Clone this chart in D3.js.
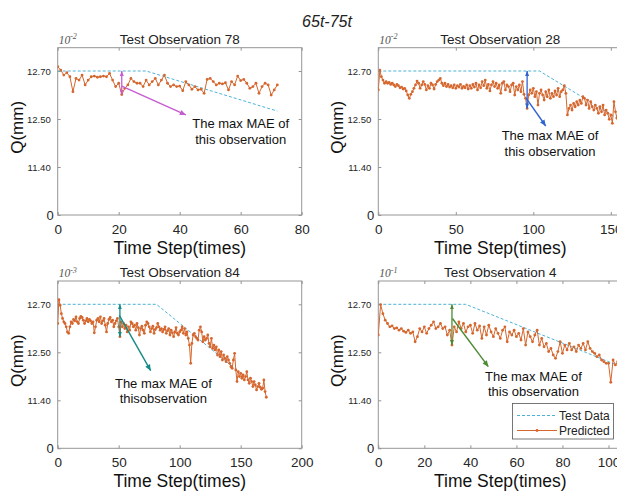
<!DOCTYPE html>
<html>
<head>
<meta charset="utf-8">
<script src="https://cdn.jsdelivr.net/npm/d3@7"></script>
<style>
  body { margin: 0; background: #fff; }
  svg { display: block; }
  text { font-family: Arial, "Liberation Sans", sans-serif; }
</style>
</head>
<body>
<svg id="chart" width="617" height="495"></svg>
<script>
// ---- data ---------------------------------------------------------------
const figureTitle = "65t-75t";
const panelTitles = ["Test Observation 78", "Test Observation 28", "Test Observation 84", "Test Observation 4"];
const scaleExponents = ["-2", "-2", "-3", "-1"];
const xDomains = [[0, 80], [0, 157.4], [0, 200], [0, 106]];
const xTickValues = [[0, 20, 40, 60, 80], [0, 50, 100, 150], [0, 50, 100, 150, 200], [0, 20, 40, 60, 80, 100]];
const yTickValues = [0, 11.40, 12.50, 12.70];
const yTickLabels = ["0", "11.40", "12.50", "12.70"];

// predicted Q per time step
const obs78Predicted = [
  12.718, 12.704, 12.683, 12.693, 12.676, 12.614, 12.669, 12.662, 12.683, 12.642,
  12.662, 12.676, 12.679, 12.674, 12.676, 12.679, 12.676, 12.690, 12.662, 12.635,
  12.649, 12.602, 12.628, 12.642, 12.669, 12.656, 12.649, 12.649, 12.635, 12.662,
  12.642, 12.656, 12.669, 12.642, 12.662, 12.683, 12.649, 12.635, 12.642, 12.635,
  12.637, 12.618, 12.656, 12.642, 12.624, 12.635, 12.621, 12.624, 12.607, 12.665,
  12.669, 12.656, 12.642, 12.649, 12.646, 12.651, 12.621, 12.656, 12.642, 12.679,
  12.660, 12.665, 12.649, 12.628, 12.635, 12.649, 12.607, 12.635, 12.649, 12.642,
  12.600, 12.621, 12.642
];
const obs28Predicted = [
  12.621, 12.704, 12.676, 12.662, 12.649, 12.656, 12.649, 12.653, 12.644, 12.649,
  12.642, 12.635, 12.644, 12.639, 12.630, 12.633, 12.625, 12.628, 12.617, 12.600,
  12.586, 12.603, 12.614, 12.628, 12.642, 12.658, 12.649, 12.628, 12.642, 12.656,
  12.644, 12.621, 12.639, 12.628, 12.649, 12.642, 12.625, 12.644, 12.656, 12.662,
  12.669, 12.649, 12.639, 12.649, 12.635, 12.644, 12.633, 12.639, 12.630, 12.642,
  12.628, 12.639, 12.633, 12.644, 12.628, 12.636, 12.630, 12.642, 12.625, 12.639,
  12.628, 12.644, 12.633, 12.649, 12.621, 12.642, 12.630, 12.656, 12.639, 12.662,
  12.628, 12.644, 12.617, 12.642, 12.656, 12.635, 12.649, 12.628, 12.642, 12.607,
  12.649, 12.656, 12.621, 12.642, 12.635, 12.614, 12.642, 12.649, 12.600, 12.635,
  12.621, 12.642, 12.614, 12.656, 12.603, 12.586, 12.544, 12.600, 12.621, 12.607,
  12.628, 12.593, 12.614, 12.558, 12.607, 12.621, 12.600, 12.579, 12.614, 12.593,
  12.621, 12.586, 12.607, 12.593, 12.617, 12.600, 12.628, 12.593, 12.614, 12.621,
  12.639, 12.607, 12.517, 12.544, 12.558, 12.537, 12.565, 12.551, 12.572, 12.558,
  12.579, 12.565, 12.593, 12.586, 12.558, 12.579, 12.544, 12.572, 12.551, 12.537,
  12.558, 12.544, 12.524, 12.551, 12.530, 12.558, 12.517, 12.537, 12.524, 12.493,
  12.517, 12.400, 12.572, 12.530, 12.503, 12.565
];
const obs84Predicted = [
  12.620, 12.719, 12.696, 12.661, 12.641, 12.627, 12.620, 12.606, 12.585, 12.579,
  12.606, 12.627, 12.620, 12.637, 12.631, 12.648, 12.627, 12.620, 12.641, 12.650,
  12.645, 12.634, 12.620, 12.631, 12.641, 12.627, 12.637, 12.631, 12.620, 12.627,
  12.581, 12.606, 12.634, 12.641, 12.627, 12.648, 12.620, 12.631, 12.641, 12.613,
  12.585, 12.620, 12.637, 12.645, 12.627, 12.634, 12.606, 12.620, 12.631, 12.641,
  12.606, 12.565, 12.627, 12.606, 12.620, 12.599, 12.613, 12.585, 12.606, 12.592,
  12.627, 12.620, 12.606, 12.613, 12.592, 12.620, 12.603, 12.572, 12.599, 12.609,
  12.592, 12.579, 12.613, 12.627, 12.620, 12.606, 12.585, 12.599, 12.609, 12.579,
  12.595, 12.603, 12.620, 12.606, 12.592, 12.599, 12.585, 12.595, 12.606, 12.579,
  12.590, 12.599, 12.572, 12.592, 12.581, 12.565, 12.585, 12.603, 12.579, 12.572,
  12.585, 12.592, 12.606, 12.579, 12.599, 12.572, 12.585, 12.558, 12.530, 12.248,
  12.537, 12.572, 12.579, 12.565, 12.558, 12.551, 12.592, 12.606, 12.585, 12.544,
  12.565, 12.551, 12.558, 12.572, 12.537, 12.523, 12.558, 12.516, 12.530, 12.510,
  12.523, 12.438, 12.510, 12.400, 12.503, 12.324, 12.438, 12.362, 12.286, 12.400,
  12.324, 12.248, 12.171, 12.133, 12.324, 12.476, 12.095, 11.828, 12.057, 11.943,
  12.019, 11.905, 11.981, 11.867, 11.943, 12.057, 11.867, 11.790, 11.905, 11.828,
  11.714, 11.828, 11.752, 11.638, 11.714, 11.790, 11.699, 11.653, 11.676, 11.867,
  11.600, 11.470
];
const obs4Predicted = [
  12.572, 12.699, 12.661, 12.634, 12.620, 12.606, 12.610, 12.599, 12.602, 12.592,
  12.599, 12.588, 12.583, 12.592, 12.579, 12.585, 12.544, 12.565, 12.599, 12.585,
  12.606, 12.579, 12.599, 12.613, 12.627, 12.599, 12.606, 12.620, 12.599, 12.606,
  12.572, 12.592, 12.530, 12.606, 12.585, 12.627, 12.599, 12.620, 12.585, 12.606,
  12.613, 12.579, 12.620, 12.592, 12.610, 12.558, 12.606, 12.572, 12.613, 12.585,
  12.565, 12.599, 12.579, 12.558, 12.592, 12.606, 12.544, 12.585, 12.572, 12.592,
  12.565, 12.579, 12.551, 12.599, 12.530, 12.585, 12.565, 12.544, 12.572, 12.592,
  12.530, 12.558, 12.523, 12.537, 12.503, 12.516, 12.438, 12.362, 12.503, 12.544,
  12.476, 12.530, 12.510, 12.537, 12.510, 12.523, 12.503, 12.530, 12.516, 12.537,
  12.510, 12.544, 12.516, 12.503, 12.476, 12.400, 12.438, 12.324, 12.286, 12.248,
  12.248, 11.813, 12.324, 12.210, 12.286
];

// test data: [time step, Q] vertices of the reference profile
const obs78Test = [[0, 12.70], [29, 12.70], [72, 12.533]];
const obs28Test = [[0, 12.70], [104, 12.70], [155, 12.497]];
const obs84Test = [[0, 12.70], [81, 12.70], [129, 12.50], [147, 12.09]];
const obs4Test  = [[0, 12.70], [38, 12.70], [90, 12.50], [104, 12.20]];

// max-MAE callouts
const maxMaeSteps = [21, 96, 51, 32];
const calloutTails = [[21, 12.637], [95.5, 12.586], [50.5, 12.654], [32.2, 12.641]];
const calloutHeads = [[42, 12.517], [108, 12.34], [76.2, 12.079], [47.8, 12.17]];
const calloutTextAt = [[60, 12.287], [110.8, 12.012], [86.6, 11.69], [67.4, 11.85]];
const calloutLines = [
  ["The max MAE of", "this observation"],
  ["The max MAE of", "this observation"],
  ["The max MAE of", "thisobservation"],
  ["The max MAE of", "this observation"]
];
const calloutColors = ["#c75bd1", "#2f63d2", "#138a84", "#4a8a30"];

const legendLabels = ["Test Data", "Predicted"];

// ---- styling / layout ------------------------------------------------
const predColor = "#d5662d";
const testColor = "#4bb2d6";
const frameColor = "#959595";
const panelLefts = [57.7, 378.3, 57.7, 378.3];
const panelBottoms = [215, 215, 448.3, 448.3];
const panelWidth = 244;
const panelHeight = 167.3;
const tickGap = 48;

const predictedSets = [obs78Predicted, obs28Predicted, obs84Predicted, obs4Predicted];
const testSets = [obs78Test, obs28Test, obs84Test, obs4Test];

const svg = d3.select("#chart");
const defs = svg.append("defs");

calloutColors.forEach((c, i) => {
  defs.append("marker")
    .attr("id", "head" + i)
    .attr("viewBox", "0 0 10 10")
    .attr("refX", 10).attr("refY", 5)
    .attr("markerUnits", "userSpaceOnUse")
    .attr("markerWidth", 7).attr("markerHeight", 6)
    .attr("orient", "auto-start-reverse")
    .append("path").attr("d", "M0,0.5 L10,5 L0,9.5 z").attr("fill", c);
  defs.append("marker")
    .attr("id", "small" + i)
    .attr("viewBox", "0 0 10 10")
    .attr("refX", 10).attr("refY", 5)
    .attr("markerUnits", "userSpaceOnUse")
    .attr("markerWidth", 5).attr("markerHeight", 5)
    .attr("orient", "auto-start-reverse")
    .append("path").attr("d", "M0,1 L10,5 L0,9 z").attr("fill", c);
});

// figure title
svg.append("text")
  .attr("x", 327).attr("y", 27)
  .attr("text-anchor", "middle")
  .attr("font-size", 16).attr("font-style", "italic")
  .attr("fill", "#222")
  .text(figureTitle);

panelTitles.forEach((title, p) => {
  const left = panelLefts[p], bottom = panelBottoms[p], top = bottom - panelHeight;
  const right = left + panelWidth;

  const x = d3.scaleLinear().domain(xDomains[p]).range([left, right]);
  const y = d3.scaleLinear()
    .domain(yTickValues)
    .range(yTickValues.map((_, k) => bottom - k * tickGap));

  const g = svg.append("g");

  defs.append("clipPath").attr("id", "clip" + p)
    .append("rect").attr("x", left).attr("y", top).attr("width", panelWidth).attr("height", panelHeight);

  // frame
  g.append("rect")
    .attr("x", left).attr("y", top).attr("width", panelWidth).attr("height", panelHeight)
    .attr("fill", "#fff").attr("stroke", frameColor).attr("stroke-width", 1);

  // axes (ticks point inward)
  const xb = g.append("g").attr("transform", `translate(0,${bottom})`)
    .call(d3.axisBottom(x).tickValues(xTickValues[p]).tickSize(-3).tickSizeOuter(0).tickPadding(9));
  const xt = g.append("g").attr("transform", `translate(0,${top})`)
    .call(d3.axisTop(x).tickValues(xTickValues[p]).tickSize(-3).tickSizeOuter(0).tickFormat(""));
  const yl = g.append("g").attr("transform", `translate(${left},0)`)
    .call(d3.axisLeft(y).tickValues(yTickValues).tickSize(-3).tickSizeOuter(0).tickPadding(6)
      .tickFormat((d, i) => yTickLabels[i]));
  const yr = g.append("g").attr("transform", `translate(${right},0)`)
    .call(d3.axisRight(y).tickValues(yTickValues).tickSize(-3).tickSizeOuter(0).tickFormat(""));

  [xb, xt, yl, yr].forEach(a => {
    a.select(".domain").remove();
    a.selectAll(".tick line").attr("stroke", frameColor);
  });
  xb.selectAll("text").attr("font-size", 13.5).attr("fill", "#262626")
    .style("font-family", "Arial, 'Liberation Sans', sans-serif");
  yl.selectAll("text")
    .style("font-family", "Arial, 'Liberation Sans', sans-serif")
    .attr("fill", "#262626")
    .attr("font-size", (d) => d === 0 ? 13 : 9.5)
    .attr("x", (d) => d === 0 ? -4 : -7);

  // panel title and exponent
  g.append("text")
    .attr("x", left + panelWidth / 2).attr("y", top - 4)
    .attr("text-anchor", "middle").attr("font-size", 13.5).attr("fill", "#222")
    .text(title);
  const ex = g.append("text")
    .attr("x", left + 1).attr("y", top - 4)
    .style("font-family", "'Liberation Serif', 'DejaVu Serif', serif")
    .attr("font-style", "italic").attr("font-size", 11.5).attr("fill", "#555");
  ex.append("tspan").text("10");
  ex.append("tspan").attr("font-size", 8).attr("dy", -4.5).text(scaleExponents[p]);

  // axis titles
  g.append("text")
    .attr("transform", `translate(${left - 41},${(top + bottom) / 2 - 4}) rotate(-90)`)
    .attr("text-anchor", "middle").attr("dy", "0.35em")
    .attr("font-size", 17).attr("fill", "#111")
    .text("Q(mm)");
  g.append("text")
    .attr("x", left + panelWidth / 2).attr("y", bottom + 39)
    .attr("text-anchor", "middle")
    .attr("font-size", 17.5).attr("fill", "#111")
    .text("Time Step(times)");

  const plot = g.append("g").attr("clip-path", `url(#clip${p})`);
  const line = d3.line().x(d => x(d[0])).y(d => y(d[1]));

  // test data
  plot.append("path")
    .datum(testSets[p])
    .attr("d", line)
    .attr("fill", "none").attr("stroke", testColor)
    .attr("stroke-width", 1).attr("stroke-dasharray", "3,2");

  // predicted series
  const pts = predictedSets[p].map((v, i) => [i, v]);
  plot.append("path")
    .datum(pts)
    .attr("d", line)
    .attr("fill", "none").attr("stroke", predColor).attr("stroke-width", 1);
  plot.selectAll("circle.pt").data(pts).enter().append("circle")
    .attr("class", "pt")
    .attr("cx", d => x(d[0])).attr("cy", d => y(d[1]))
    .attr("r", 1.4).attr("fill", predColor);

  // max-MAE callout
  const c = calloutColors[p];
  const s = maxMaeSteps[p];
  g.append("line")
    .attr("x1", x(s)).attr("y1", y(12.70))
    .attr("x2", x(s)).attr("y2", y(predictedSets[p][s]))
    .attr("stroke", c).attr("stroke-width", 1.3)
    .attr("marker-start", `url(#small${p})`).attr("marker-end", `url(#small${p})`);
  g.append("line")
    .attr("x1", x(calloutTails[p][0])).attr("y1", y(calloutTails[p][1]))
    .attr("x2", x(calloutHeads[p][0])).attr("y2", y(calloutHeads[p][1]))
    .attr("stroke", c).attr("stroke-width", 1.4)
    .attr("marker-end", `url(#head${p})`);
  const tx = x(calloutTextAt[p][0]), ty = y(calloutTextAt[p][1]);
  calloutLines[p].forEach((ln, k) => {
    g.append("text")
      .attr("x", tx).attr("y", ty + k * 15.5)
      .attr("text-anchor", "middle").attr("font-size", 13).attr("fill", "#111")
      .text(ln);
  });

  // legend in the last panel
  if (p === 3) {
    const lg = g.append("g");
    lg.append("rect")
      .attr("x", 512.5).attr("y", 403.5).attr("width", 101).attr("height", 35.5)
      .attr("fill", "#fff").attr("stroke", "#555").attr("stroke-width", 0.8);
    lg.append("line")
      .attr("x1", 517).attr("x2", 557).attr("y1", 415.5).attr("y2", 415.5)
      .attr("stroke", testColor).attr("stroke-width", 1).attr("stroke-dasharray", "3,2");
    lg.append("line")
      .attr("x1", 517).attr("x2", 557).attr("y1", 430.5).attr("y2", 430.5)
      .attr("stroke", predColor).attr("stroke-width", 1);
    lg.append("circle").attr("cx", 537).attr("cy", 430.5).attr("r", 1.4).attr("fill", predColor);
    legendLabels.forEach((lab, k) => {
      lg.append("text")
        .attr("x", 559).attr("y", 415.5 + k * 15).attr("dy", "0.35em")
        .attr("font-size", 12).attr("fill", "#222")
        .text(lab);
    });
  }
});
</script>
</body>
</html>
